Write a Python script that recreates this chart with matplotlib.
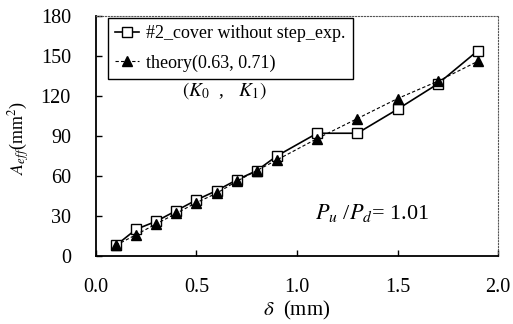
import numpy as np
import matplotlib
matplotlib.use("Agg")
import matplotlib.pyplot as plt

plt.rcParams['font.family'] = ['Liberation Serif', 'DejaVu Serif']
plt.rcParams['mathtext.fontset'] = 'stix'

# data
delta = [0.1, 0.2, 0.3, 0.4, 0.5, 0.6, 0.7, 0.8, 0.9, 1.1, 1.3, 1.5, 1.7, 1.9]
a_exp = [8, 20, 26, 34, 42, 49, 57, 64, 75, 92, 92, 110, 129, 154]
a_theory = [8, 16, 24, 32, 40, 47, 56, 64, 72, 88, 103, 118, 131, 146]
xticks = [0.0, 0.5, 1.0, 1.5, 2.0]
yticks = [0, 30, 60, 90, 120, 150, 180]

fig, ax = plt.subplots(figsize=(5.13, 3.24), dpi=100)
fig.subplots_adjust(left=0.187, right=0.971, top=0.951, bottom=0.21)

ax.plot(delta, a_exp, '-', color='black', lw=1.2, marker='s', ms=7,
        mfc='white', mec='black', mew=1.0, label='#2_cover without step_exp.')
ax.plot(delta, a_theory, '--', color='black', lw=0.8, dashes=(3, 2),
        marker='^', ms=6.5, mfc='black', mec='black', label='theory(0.63, 0.71)')

ax.set_xlim(0, 2.0)
ax.set_ylim(0, 180)
ax.set_xticks(xticks)
ax.set_xticklabels(['%.1f' % t for t in xticks])
ax.set_yticks(yticks)
ax.tick_params(direction='in', labelsize=14.5, length=4, width=1)
ax.tick_params(axis='x', pad=16)
ax.tick_params(axis='y', pad=18)

for s in ['left', 'bottom']:
    ax.spines[s].set_linewidth(1.3)
for s in ['top', 'right']:
    ax.spines[s].set_linestyle(':')
    ax.spines[s].set_linewidth(0.8)
    ax.spines[s].set_color('#555555')

ax.set_xlabel(r'$\delta$  (mm)', fontsize=15, labelpad=1)
ax.set_ylabel(r'$A_{eff}$(mm$^2$)', fontsize=13, va='center')
ax.yaxis.set_label_coords(-0.19, 0.49)

leg = ax.legend(loc='upper left', fontsize=13, frameon=True, fancybox=False,
                edgecolor='black', framealpha=1, handlelength=1.3,
                handletextpad=0.4, borderpad=0.4, labelspacing=0.65,
                borderaxespad=0, bbox_to_anchor=(0.03, 0.99))
leg.get_frame().set_linewidth(1.0)

ax.text(0.32, 0.69, r'$(K_0$  ,   $K_1)$', transform=ax.transAxes,
        fontsize=14, ha='center', va='center')
ax.text(0.687, 0.18, r'$P_u$ /$P_d$= 1.01', transform=ax.transAxes,
        fontsize=16, ha='center', va='center')

plt.savefig('out.png', dpi=100)
